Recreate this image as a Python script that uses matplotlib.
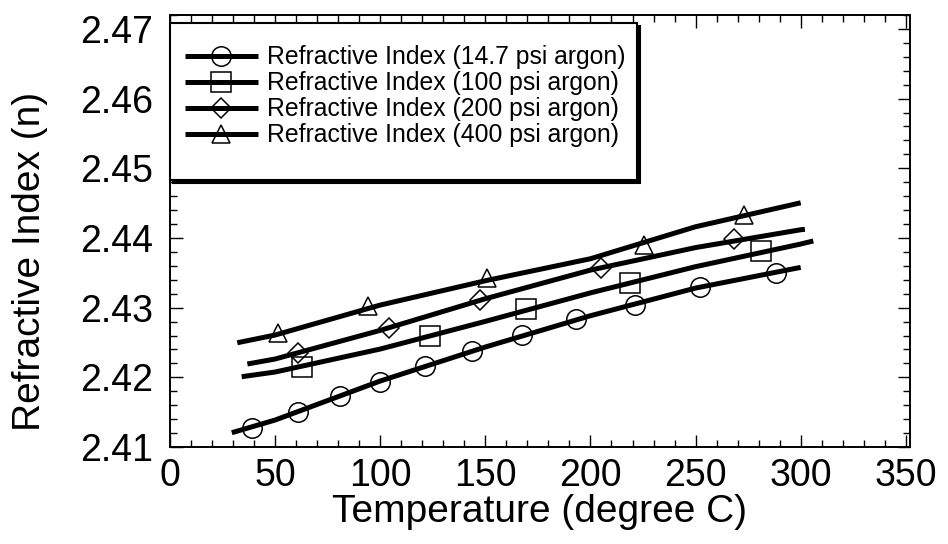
import matplotlib
matplotlib.use("Agg")
import matplotlib.pyplot as plt
from matplotlib import font_manager, transforms
from matplotlib.patches import Rectangle
from matplotlib.ticker import MultipleLocator

# ---------------- data ----------------
labels = [
    "Refractive Index (14.7 psi argon)",
    "Refractive Index (100 psi argon)",
    "Refractive Index (200 psi argon)",
    "Refractive Index (400 psi argon)",
]
markers = ["o", "s", "D", "^"]

# measured points (markers)
t_147 = [38.9, 60.8, 81.0, 100.0, 121.4, 143.7, 167.6, 192.9, 221.1, 251.9, 288.1]
n_147 = [2.41268, 2.41498, 2.41732, 2.41937, 2.42162, 2.42382, 2.42607, 2.42832, 2.43037, 2.43300, 2.43501]
t_100 = [62.7, 123.5, 169.5, 218.6, 281.0]
n_100 = [2.42152, 2.42593, 2.42976, 2.43357, 2.43816]
t_200 = [60.8, 104.4, 147.6, 205.2, 268.2]
n_200 = [2.42344, 2.42712, 2.43109, 2.43572, 2.43980]
t_400 = [51.6, 94.4, 150.8, 225.7, 273.0]
n_400 = [2.42631, 2.43023, 2.43420, 2.43898, 2.44329]

# fitted curves
ct_147 = [29.4, 50, 100, 150, 200, 250, 300]
cn_147 = [2.41205, 2.41387, 2.41947, 2.42435, 2.42884, 2.43281, 2.43578]
ct_100 = [34.1, 50, 100, 150, 200, 250, 300, 306]
cn_100 = [2.42009, 2.42076, 2.42406, 2.42803, 2.43212, 2.43588, 2.43913, 2.43957]
ct_200 = [36.8, 50, 100, 150, 200, 250, 300, 302]
cn_200 = [2.42191, 2.42263, 2.42674, 2.43128, 2.43539, 2.43862, 2.44118, 2.44124]
ct_400 = [32.0, 50, 100, 150, 200, 250, 300]
cn_400 = [2.42496, 2.42607, 2.43037, 2.43386, 2.43702, 2.44161, 2.44505]

x_ticks = [0, 50, 100, 150, 200, 250, 300, 350]
y_ticks = [2.41, 2.42, 2.43, 2.44, 2.45, 2.46, 2.47]

# ---------------- fonts ----------------
available = {f.name for f in font_manager.fontManager.ttflist}
regular = "Liberation Sans" if "Liberation Sans" in available else "DejaVu Sans"
narrow = "Liberation Sans Narrow" if "Liberation Sans Narrow" in available else regular
tick_size = 30 if narrow != regular else 27

# ---------------- figure ----------------
fig = plt.figure(figsize=(9.48, 5.44), dpi=100)
ax = fig.add_axes([170 / 948, 1 - 447 / 544, 740 / 948, 432 / 544])

series_t = [t_147, t_100, t_200, t_400]
series_n = [n_147, n_100, n_200, n_400]
curve_t = [ct_147, ct_100, ct_200, ct_400]
curve_n = [cn_147, cn_100, cn_200, cn_400]
msizes = [14, 14, 10, 13]

handles = []
for t, n, ctt, cnn, m, ms in zip(series_t, series_n, curve_t, curve_n, markers, msizes):
    ln, = ax.plot(ctt, cnn, color="black", lw=3.6, solid_capstyle="butt", zorder=3)
    mk, = ax.plot(t, n, linestyle="none", marker=m, ms=ms, mfc="none",
                  mec="black", mew=1.1, zorder=4)
    handles.append((ln, mk))

ax.set_xlim(0, 352)
ax.set_ylim(2.41, 2.472)
ax.set_xticks(x_ticks)
ax.set_yticks(y_ticks)
ax.set_xticklabels([str(v) for v in x_ticks])
ax.set_yticklabels([f"{v:.2f}" for v in y_ticks])
ax.xaxis.set_minor_locator(MultipleLocator(10))
ax.yaxis.set_minor_locator(MultipleLocator(0.002))
ax.tick_params(which="both", direction="in", top=True, right=True, width=1.0, color="black")
ax.tick_params(which="major", length=9)
ax.tick_params(which="minor", length=5)
ax.tick_params(axis="x", which="major", pad=8)
ax.tick_params(axis="y", which="major", pad=12)
for lab in ax.get_xticklabels() + ax.get_yticklabels():
    lab.set_fontfamily(narrow)
    lab.set_fontsize(tick_size)
for sp in ax.spines.values():
    sp.set_linewidth(1.4)

ax.set_xlabel("Temperature (degree C)", fontfamily=regular, fontsize=28, labelpad=0)
ax.set_ylabel("Refractive Index (n)", fontfamily=regular, fontsize=28)
ax.yaxis.set_label_coords(-0.165, 0.43)

# legend frame with dark drop shadow
fx0, fy0, fw, fh = 0.0, 0.618, 0.631, 0.363
shadow_tr = transforms.offset_copy(ax.transAxes, fig=fig, x=3, y=-3, units="dots")
ax.add_patch(Rectangle((fx0, fy0), fw, fh, transform=shadow_tr, facecolor="black",
                       edgecolor="black", lw=1.5, zorder=5, clip_on=False))
ax.add_patch(Rectangle((fx0, fy0), fw, fh, transform=ax.transAxes, facecolor="white",
                       edgecolor="black", lw=1.5, zorder=5.1, clip_on=False))

leg = ax.legend(handles, labels, loc="upper left",
                frameon=False, numpoints=1, prop={"family": regular, "size": 17.8},
                handlelength=2.95, handletextpad=0.36, borderpad=0.0,
                borderaxespad=0.0, labelspacing=0.08)
leg.set_zorder(6)
leg.set_bbox_to_anchor((15 / 740, 0.93), transform=ax.transAxes)

fig.savefig("out.png", dpi=100)
